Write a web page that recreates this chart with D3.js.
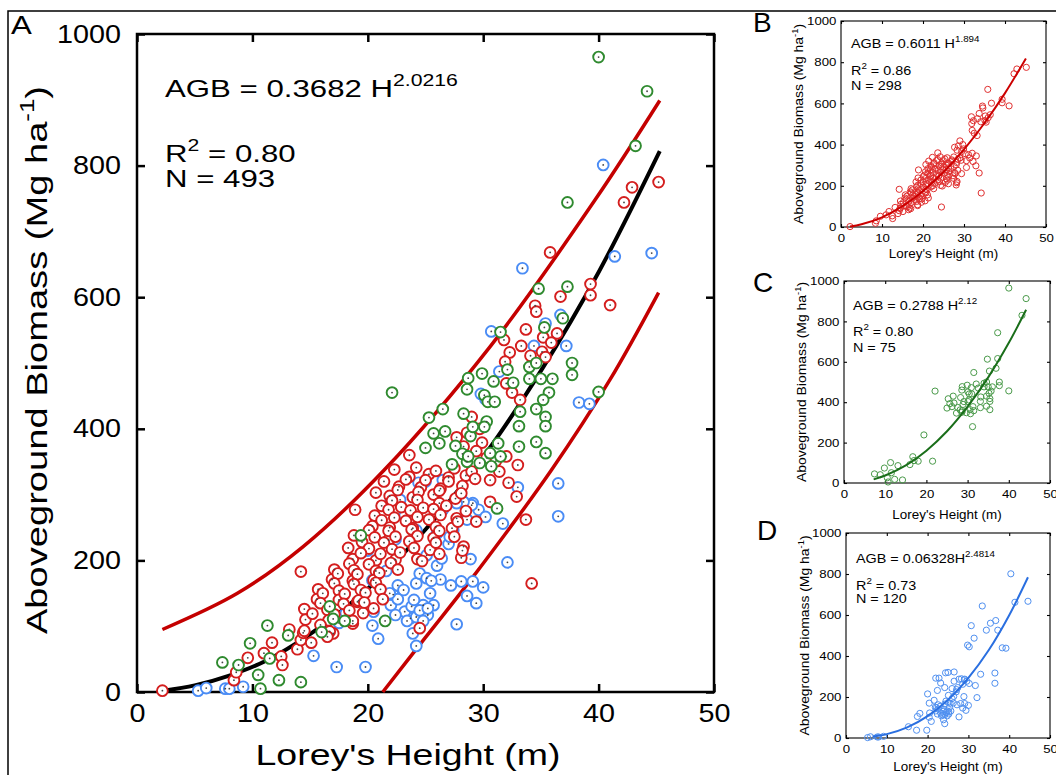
<!DOCTYPE html>
<html>
<head>
<meta charset="utf-8">
<title>Aboveground Biomass vs Lorey's Height</title>
<script src="https://d3js.org/d3.v7.min.js"></script>
<style>
  body { margin: 0; background: #fff; }
  svg text { font-family: "Liberation Sans", Arial, Helvetica, sans-serif; fill: #000; }
</style>
</head>
<body>
<svg id="chart" width="1056" height="775"></svg>
<script>

// ---- data (Lorey's height in m, AGB in Mg/ha) ----
var xTicks = [0, 10, 20, 30, 40, 50];
var yTicks = [0, 200, 400, 600, 800, 1000];

var redPts = [
  [2.2,2],[8.4,18],[8.6,30],[9.6,52],[11.0,59],[11.7,75],[12.5,54],[12.6,41],[13.2,95],[13.9,65],
  [14.2,79],[14.4,90],[14.2,183],[17.0,89],[16.3,99],[18.7,104],[19.1,137],[19.6,120],[20.5,127],[21.8,231],[18.9,277],
  [22.3,338],[23.6,327],[24.2,341],[25.3,331],[25.9,336],[27.0,326],[27.5,340],[28.5,329],[29.0,335],
  [21.4,320],[22.7,312],[23.3,323],[24.6,311],[25.0,322],[26.3,309],[27.0,320],[28.2,313],[29.3,324],[30.6,322],[31.4,335],[32.2,318],
  [20.7,303],[21.9,298],[22.6,307],[23.9,296],[24.4,304],[25.7,300],[26.2,306],[27.6,294],[28.1,302],
  [21.2,283],[22.1,291],[22.9,281],[24.3,292],[24.8,280],[26.2,287],[26.8,283],
  [20.6,268],[21.8,277],[22.3,265],[23.7,276],[24.3,266],[25.7,278],[26.3,269],[27.7,264],[28.5,275],
  [20.4,252],[21.2,261],[21.9,250],[23.3,260],[23.9,249],[25.3,262],[25.9,251],[27.3,249],[27.8,259],
  [18.8,238],[20.1,246],[20.6,235],[21.8,245],[22.4,236],[23.8,247],[24.3,237],[25.7,234],[26.2,245],[27.5,236],
  [18.3,219],[19.5,228],[20.1,218],[21.4,227],[22.1,217],[23.6,229],[24.0,219],[25.4,216],[25.9,227],[28.3,221],
  [18.7,202],[19.4,211],[20.7,200],[21.1,210],[22.4,201],[22.8,212],[24.3,202],[24.7,199],[26.2,210],[28.1,204],
  [17.1,186],[18.4,195],[18.8,185],[20.1,194],[20.7,184],[22.0,196],[22.6,186],
  [16.9,171],[17.4,180],[18.7,169],[19.1,179],[20.5,170],[21.0,181],
  [15.7,156],[17.1,165],[17.5,154],[18.8,164],[19.4,155],[20.7,166],[21.1,156],
  [15.6,141],[16.1,150],[17.5,140],[18.0,149],[19.2,139],[19.8,151],[21.3,141],
  [14.5,126],[15.9,135],[16.5,125],[17.9,134],[18.4,124],[19.7,136],
  [14.6,110],[15.2,119],[16.6,109],[17.1,118],[18.7,108],
  [14.5,93],[15.9,102],[16.7,92],[15.1,75],[16.5,84],
  [23.6,360],[29.0,418],[29.7,400],[28.6,394],[29.9,379],[27.7,387],[28.3,373],[29.4,366],[30.3,356],[31.1,351],
  [32.0,358],[33.0,345],[32.9,297],[30.6,289],[29.4,259],[28.2,215],[24.5,97],[33.7,262],[34.2,165],
  [35.8,668],[36.7,601],[39.3,620],[39.3,603],[41.0,588],[34.5,587],[34.6,578],[33.7,551],[35.2,539],[36.4,545],
  [35.9,531],[33.3,526],[31.8,535],[32.3,516],[31.9,502],[34.1,511],[35.1,517],[35.4,509],[32.0,469],[32.5,455],
  [33.2,444],[45.2,775],[42.9,767],[42.2,744]
];

var greenPts = [
  [7.4,45],[8.8,41],[9.8,74],[10.5,26],[10.7,5],[11.3,101],[11.5,51],[12.3,18],[13.1,86],[14.2,15],
  [16.0,91],[16.7,130],[17.0,111],[18.0,108],[19.4,238],[21.5,108],
  [22.1,455],[25.3,417],[26.5,430],[25.7,393],[26.7,396],[25.0,371],[27.6,374],[28.9,389],[28.2,362],[27.3,346],
  [28.6,350],[28.7,477],[28.6,460],[29.9,484],[30.1,451],[30.4,441],[31.0,441],[30.3,411],[31.5,547],[30.9,472],
  [32.1,490],[34.0,494],[34.0,476],[35.0,476],[36.0,476],[35.7,455],[35.2,444],[33.2,426],[34.6,430],[35.4,418],
  [35.4,404],[33.1,404],[34.6,500],[37.7,500],[37.7,482],[36.9,568],[35.3,554],[34.8,613],[37.3,616],[37.3,744],
  [40.0,456],[40.0,965],[44.2,913],[43.2,830],[31.2,279],[33.1,373],[34.6,380],[35.4,363],[31.3,378],[31.5,358],
  [30.6,363],[30.7,343],[29.7,348],[28.7,358],[29.1,403],[30.1,403],[28.3,423],[26.2,378],[32.6,470]
];

var bluePts = [
  [5.3,2],[6.0,6],[7.65,5],[8.0,5],[9.2,8],[15.3,55],[17.3,38],[19.8,38],[20.4,101],[20.9,81],[22.0,132],[22.2,148],
  [36.5,317],[36.5,267],[33.0,311],[31.7,256],[32.1,197],[29.4,135],[28.6,146],[30.0,159],[29.1,168],[28.1,168],
  [27.2,162],[27.7,103],[28.9,202],[26.3,171],[26.0,192],[26.4,203],[27.0,225],[27.1,236],[25.7,132],[25.2,117],
  [24.8,132],[25.4,150],[24.2,165],[24.5,180],[25.1,173],[24.2,70],[23.9,89],[23.7,112],[23.2,122],[23.4,108],
  [24.2,114],[23.8,130],[22.6,162],[23.1,155],[20.5,122],[29.1,287],[29.6,277],[30.2,266],[26.0,241],
  [33.4,644],[30.7,548],[36.7,573],[35.4,560],[34.4,526],[37.2,526],[31.4,487],[29.8,453],[30.2,445],[38.3,440],
  [39.2,438],[40.4,801],[41.4,662],[44.6,667],
  [29.0,284],[28.3,289],[26.5,277],[27.4,246],[24.2,246],
  [25.1,208],[25.5,169],[22.6,141],[21.9,150],[24.0,140],[24.5,124],[25.2,127],[24.8,108],[22.4,117],[28.6,262],[27.7,287],
  [17.5,105],[18.1,120],[20.4,170],[20.0,215],[22.0,292],[22.8,292],[23.2,268],[24.4,318],[25.0,320],[26.5,322],[22.4,232],[21.6,184]
];

// fitted curves and prediction bounds, sampled from the drawn lines
var fitA   = [[2.3,2],[5,10],[8,25],[11,46],[15,88],[20,157],[25,247],[30,357],[35,488],[40,638],[45.3,822]];
var upperA = [[2.2,95],[8.7,150],[14.4,221],[21.4,337],[30.6,525],[39.7,748],[45.3,899]];
var lowerA = [[21.3,0],[25,83],[28.9,170],[35.9,337],[41,475],[45.2,607]];
var fitB = [[2.2,2],[5,13],[10,47],[15,101],[20,175],[25,267],[30,377],[35,505],[40,650],[45.1,818]];
var fitC = [[7.2,18],[10,37],[15,87],[20,160],[25,256],[30,378],[35,523],[40,694],[44.2,858]];
var fitD = [[6.5,7],[10,19],[15,52],[20,107],[25,186],[30,293],[35,429],[40,599],[44.6,784]];

var svg = d3.select("#chart");

// text whose glyphs are widened along the reading direction, like the figure's font
function sText(g, x, y, size, sx, anchor, rot) {
  return g.append("text")
    .attr("transform", "translate(" + x + "," + y + ")" + (rot ? " rotate(" + rot + ")" : "") + " scale(" + sx + ",1)")
    .attr("font-size", size)
    .attr("text-anchor", anchor || "start");
}
function addSup(t, base, sup, size, after) {
  t.append("tspan").text(base);
  t.append("tspan").attr("font-size", size * 0.68).attr("dy", -size * 0.45).text(sup);
  if (after) t.append("tspan").attr("dy", size * 0.45).text(after);
  return t;
}

// outer figure frame
svg.append("path").attr("d", "M8,775 L8,11 L1056,11").attr("fill", "none").attr("stroke", "#000").attr("stroke-width", 1.5);

// ================= panel A =================
var A = {left: 137, right: 714, top: 34, bottom: 692};
var x = d3.scaleLinear().domain([0, 50]).range([A.left, A.right]);
var y = d3.scaleLinear().domain([0, 1000]).range([A.bottom, A.top]);
var gA = svg.append("g");

function axesFor(g, xs, ys, f, tick, fs, sx, padX, padY, sw) {
  var bx = g.append("g").attr("transform", "translate(0," + f.bottom + ")")
    .call(d3.axisBottom(xs).tickValues(xTicks).tickSize(-tick).tickSizeOuter(0).tickPadding(padX).tickFormat(d3.format("d")));
  var ly = g.append("g").attr("transform", "translate(" + f.left + ",0)")
    .call(d3.axisLeft(ys).tickValues(yTicks).tickSize(-tick).tickSizeOuter(0).tickPadding(padY).tickFormat(d3.format("d")));
  var tx = g.append("g").attr("transform", "translate(0," + f.top + ")")
    .call(d3.axisTop(xs).tickValues(xTicks).tickSize(-tick).tickSizeOuter(0).tickFormat(""));
  var ry = g.append("g").attr("transform", "translate(" + f.right + ",0)")
    .call(d3.axisRight(ys).tickValues(yTicks).tickSize(-tick).tickSizeOuter(0).tickFormat(""));
  [bx, ly, tx, ry].forEach(function (a) {
    a.select(".domain").remove();
    a.attr("font-family", null).attr("font-size", fs);
    a.selectAll("line").attr("stroke-width", sw);
  });
  bx.selectAll("text").attr("transform", "scale(" + sx + ",1)");
  ly.selectAll("text").attr("transform", "scale(" + sx + ",1)");
  g.append("rect").attr("x", f.left).attr("y", f.top)
    .attr("width", f.right - f.left).attr("height", f.bottom - f.top)
    .attr("fill", "none").attr("stroke", "#000").attr("stroke-width", sw);
}

axesFor(gA, x, y, A, 8, 25, 1.15, 12, 14, 2.5);

var lineA = d3.line().x(function (d) { return x(d[0]); }).y(function (d) { return y(d[1]); }).curve(d3.curveCatmullRom);
gA.append("path").datum(upperA).attr("d", lineA).attr("fill", "none").attr("stroke", "#c40000").attr("stroke-width", 3.5);
gA.append("path").datum(lowerA).attr("d", lineA).attr("fill", "none").attr("stroke", "#c40000").attr("stroke-width", 3.5);
gA.append("path").datum(fitA).attr("d", lineA).attr("fill", "none").attr("stroke", "#000").attr("stroke-width", 4);

function dotsA(pts, color) {
  var g = gA.append("g");
  g.selectAll("circle.ring").data(pts).enter().append("circle")
    .attr("cx", function (d) { return x(d[0]); })
    .attr("cy", function (d) { return y(d[1]); })
    .attr("r", 5.4).attr("fill", "#fff").attr("stroke", color).attr("stroke-width", 1.9);
  g.selectAll("circle.dot").data(pts).enter().append("circle")
    .attr("cx", function (d) { return x(d[0]); })
    .attr("cy", function (d) { return y(d[1]); })
    .attr("r", 0.9).attr("fill", "#444");
}
dotsA(bluePts, "#4a8cf5");
dotsA(redPts, "#d41e1e");
dotsA(greenPts, "#2f8a2f");

sText(gA, 11, 34, 26, 1.2).text("A");
addSup(sText(gA, 165, 97, 24, 1.3), "AGB = 0.3682 H", "2.0216", 24);
addSup(sText(gA, 165, 162, 24, 1.3), "R", "2", 24, " = 0.80");
sText(gA, 165, 187, 24, 1.3).text("N = 493");
sText(gA, 408, 765, 30, 1.25, "middle").text("Lorey's Height (m)");
addSup(sText(gA, 47, 360, 30, 1.27, "middle", -90), "Aboveground Biomass (Mg ha", "-1", 30, ")");

// ================= panels B, C, D =================
var panels = [
  {letter: "B", lx: 753, ly: 32, f: {left: 841, right: 1046, top: 21, bottom: 227},
   eq: ["AGB = 0.6011 H", "1.894"], r2: "0.86", n: "298", pts: redPts, fit: fitB,
   dot: "#e03030", line: "#cc0000", eqY: 48, r2Y: 75, nY: 90, eqX: 851, xlY: 258, ylX: 803},
  {letter: "C", lx: 753, ly: 292, f: {left: 844, right: 1050, top: 281, bottom: 483},
   eq: ["AGB = 0.2788 H", "2.12"], r2: "0.80", n: "75", pts: greenPts, fit: fitC,
   dot: "#4a9a4a", line: "#1a6e1a", eqY: 310, r2Y: 336, nY: 352, eqX: 853, xlY: 519, ylX: 806},
  {letter: "D", lx: 757, ly: 540, f: {left: 846, right: 1050, top: 533, bottom: 738},
   eq: ["AGB = 0.06328H", "2.4814"], r2: "0.73", n: "120", pts: bluePts, fit: fitD,
   dot: "#5090f0", line: "#2a6fe0", eqY: 563, r2Y: 590, nY: 603, eqX: 856, xlY: 771, ylX: 809}
];

panels.forEach(function (p) {
  var f = p.f;
  var g = svg.append("g");
  var xs = d3.scaleLinear().domain([0, 50]).range([f.left, f.right]);
  var ys = d3.scaleLinear().domain([0, 1000]).range([f.bottom, f.top]);
  axesFor(g, xs, ys, f, 3, 11.5, 1.15, 7, 4, 1.1);

  g.selectAll("circle").data(p.pts).enter().append("circle")
    .attr("cx", function (d) { return xs(d[0]); })
    .attr("cy", function (d) { return ys(d[1]); })
    .attr("r", 3.1).attr("fill", "none").attr("stroke", p.dot).attr("stroke-width", 1);

  var ln = d3.line().x(function (d) { return xs(d[0]); }).y(function (d) { return ys(d[1]); }).curve(d3.curveCatmullRom);
  g.append("path").datum(p.fit).attr("d", ln).attr("fill", "none").attr("stroke", p.line).attr("stroke-width", 2);

  sText(g, p.lx, p.ly, 28, 1.0).text(p.letter);
  addSup(sText(g, p.eqX, p.eqY, 12.5, 1.15), p.eq[0], p.eq[1], 12.5);
  addSup(sText(g, p.eqX, p.r2Y, 12.5, 1.15), "R", "2", 12.5, " = " + p.r2);
  sText(g, p.eqX, p.nY, 12.5, 1.15).text("N = " + p.n);
  sText(g, (f.left + f.right) / 2, p.xlY, 12, 1.12, "middle").text("Lorey's Height (m)");
  addSup(sText(g, p.ylX, (f.top + f.bottom) / 2, 12, 1.16, "middle", -90), "Aboveground Biomass (Mg ha", "-1", 12, ")");
});

</script>
</body>
</html>
